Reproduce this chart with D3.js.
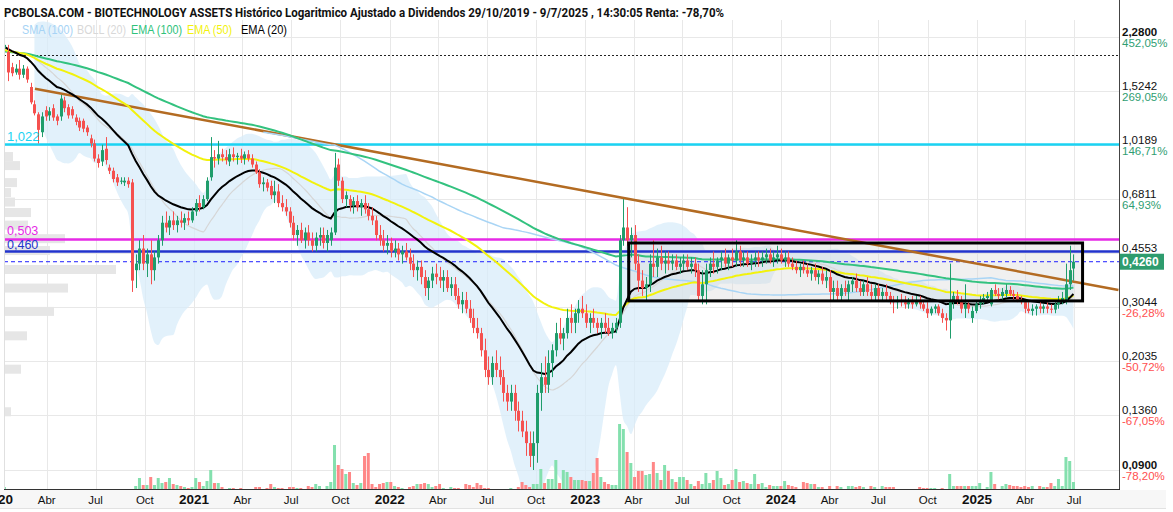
<!DOCTYPE html>
<html><head><meta charset="utf-8">
<script src="https://cdn.jsdelivr.net/npm/d3@7"></script>
<style>
body{margin:0;background:#fff;}
svg{display:block;font-family:"Liberation Sans",Arial,sans-serif;}
</style>
</head><body><svg id="c" width="1173" height="512"></svg>
<script>
// ---------------- DATA ----------------
const firstWeek = "2019-10-28";
// weekly candles [open, high, low, close]
const candles = [
[2.00,2.05,1.95,2.02],[2.02,2.10,1.98,2.08],[2.08,2.15,2.03,2.12],[2.12,2.16,2.05,2.07],[2.07,2.18,2.04,2.15],[2.15,2.22,2.10,2.18],[2.18,2.25,2.12,2.14],[2.14,2.22,2.10,2.20],[2.20,2.28,2.15,2.24],[2.24,2.30,2.16,2.19],
[2.19,2.26,2.12,2.21],[2.10,2.28,2.05,2.15],[2.04,2.15,1.64,1.75],[1.82,1.88,1.70,1.74],[1.75,1.86,1.72,1.80],[1.80,1.92,1.66,1.72],[1.72,1.85,1.68,1.80],[1.80,1.83,1.62,1.66],[1.57,1.62,1.38,1.40],[1.38,1.42,1.27,1.29],
[1.28,1.30,1.03,1.14],[1.12,1.30,1.08,1.26],[1.32,1.36,1.22,1.26],[1.27,1.35,1.22,1.31],[1.34,1.38,1.22,1.25],[1.26,1.28,1.18,1.22],[1.26,1.48,1.22,1.44],[1.42,1.46,1.30,1.34],[1.35,1.38,1.24,1.27],[1.33,1.36,1.24,1.27],
[1.25,1.28,1.18,1.21],[1.22,1.25,1.13,1.16],[1.22,1.24,1.12,1.15],[1.16,1.18,1.09,1.12],[1.07,1.10,1.00,1.03],[1.03,1.06,0.90,0.92],[0.92,0.95,0.86,0.89],[0.90,1.02,0.87,0.98],[0.99,1.08,0.88,0.91],[0.86,0.88,0.82,0.84],
[0.84,0.86,0.77,0.79],[0.80,0.82,0.75,0.77],[0.78,0.80,0.76,0.78],[0.77,0.80,0.75,0.78],[0.78,0.80,0.74,0.76],[0.77,0.79,0.34,0.37],[0.40,0.45,0.35,0.42],[0.42,0.50,0.40,0.47],[0.47,0.52,0.40,0.42],[0.42,0.47,0.38,0.45],
[0.45,0.50,0.36,0.40],[0.40,0.46,0.37,0.44],[0.44,0.52,0.42,0.50],[0.50,0.60,0.48,0.57],[0.57,0.62,0.53,0.55],[0.55,0.60,0.52,0.58],[0.58,0.62,0.54,0.56],[0.56,0.60,0.53,0.58],[0.58,0.62,0.55,0.57],[0.57,0.61,0.54,0.59],
[0.59,0.62,0.56,0.58],[0.58,0.64,0.57,0.62],[0.62,0.68,0.60,0.66],[0.66,0.70,0.62,0.64],[0.64,0.70,0.63,0.68],[0.68,0.80,0.67,0.78],[0.80,1.08,0.78,0.93],[0.93,0.98,0.86,0.92],[0.92,1.05,0.88,0.95],[0.95,0.99,0.90,0.93],
[0.93,0.98,0.88,0.91],[0.90,0.99,0.87,0.95],[0.95,1.00,0.90,0.93],[0.93,0.96,0.88,0.94],[0.94,0.99,0.89,0.92],[0.92,0.97,0.88,0.95],[0.95,0.98,0.90,0.92],[0.92,0.95,0.86,0.88],[0.88,0.90,0.82,0.83],[0.83,0.85,0.74,0.76],
[0.76,0.80,0.72,0.77],[0.77,0.79,0.72,0.74],[0.75,0.78,0.68,0.70],[0.70,0.78,0.66,0.72],[0.72,0.76,0.64,0.66],[0.66,0.70,0.62,0.64],[0.64,0.68,0.60,0.62],[0.62,0.64,0.55,0.57],[0.57,0.60,0.50,0.52],[0.52,0.56,0.48,0.54],
[0.54,0.57,0.49,0.50],[0.50,0.55,0.47,0.53],[0.53,0.56,0.48,0.50],[0.50,0.53,0.46,0.48],[0.48,0.53,0.46,0.51],[0.51,0.55,0.48,0.52],[0.52,0.55,0.47,0.49],[0.49,0.54,0.46,0.52],[0.50,0.55,0.48,0.53],[0.53,0.96,0.52,0.86],
[0.88,0.92,0.75,0.78],[0.78,0.80,0.66,0.68],[0.68,0.72,0.64,0.70],[0.68,0.70,0.62,0.65],[0.65,0.69,0.61,0.67],[0.67,0.70,0.62,0.64],[0.64,0.68,0.60,0.66],[0.66,0.70,0.61,0.63],[0.63,0.66,0.58,0.60],[0.60,0.64,0.56,0.58],
[0.58,0.60,0.50,0.52],[0.52,0.56,0.48,0.50],[0.50,0.54,0.46,0.48],[0.48,0.52,0.45,0.49],[0.49,0.51,0.44,0.46],[0.46,0.50,0.44,0.47],[0.47,0.49,0.43,0.45],[0.45,0.48,0.42,0.46],[0.46,0.49,0.43,0.44],[0.44,0.47,0.40,0.42],
[0.42,0.45,0.38,0.40],[0.40,0.43,0.37,0.41],[0.41,0.43,0.36,0.38],[0.38,0.40,0.33,0.35],[0.35,0.38,0.32,0.37],[0.37,0.41,0.35,0.39],[0.39,0.42,0.36,0.38],[0.38,0.41,0.35,0.37],[0.37,0.40,0.34,0.38],[0.38,0.40,0.34,0.35],
[0.35,0.38,0.33,0.36],[0.36,0.38,0.32,0.33],[0.33,0.35,0.30,0.31],[0.31,0.34,0.29,0.32],[0.32,0.34,0.29,0.30],[0.30,0.32,0.27,0.28],[0.28,0.30,0.25,0.26],[0.26,0.28,0.24,0.25],[0.25,0.26,0.21,0.22],[0.22,0.24,0.18,0.19],
[0.19,0.21,0.17,0.18],[0.18,0.21,0.17,0.20],[0.20,0.22,0.18,0.19],[0.19,0.21,0.17,0.18],[0.18,0.19,0.15,0.16],[0.16,0.17,0.14,0.15],[0.15,0.17,0.14,0.16],[0.16,0.17,0.13,0.14],[0.14,0.15,0.12,0.13],[0.13,0.14,0.115,0.12],
[0.12,0.13,0.10,0.11],[0.11,0.12,0.092,0.10],[0.10,0.12,0.090,0.11],[0.11,0.17,0.095,0.16],[0.16,0.20,0.14,0.18],[0.18,0.21,0.16,0.17],[0.17,0.22,0.16,0.20],[0.20,0.23,0.18,0.22],[0.22,0.27,0.21,0.25],[0.25,0.28,0.23,0.24],
[0.24,0.26,0.22,0.25],[0.25,0.30,0.24,0.28],[0.28,0.31,0.25,0.27],[0.27,0.30,0.25,0.29],[0.29,0.32,0.27,0.30],[0.30,0.33,0.28,0.29],[0.29,0.31,0.26,0.27],[0.27,0.29,0.25,0.28],[0.28,0.30,0.26,0.27],[0.27,0.28,0.25,0.26],
[0.26,0.28,0.24,0.27],[0.27,0.29,0.25,0.26],[0.26,0.28,0.245,0.25],[0.25,0.27,0.24,0.26],[0.26,0.28,0.25,0.27],[0.27,0.52,0.26,0.50],[0.50,0.68,0.48,0.55],[0.55,0.64,0.48,0.50],[0.50,0.55,0.44,0.52],[0.52,0.56,0.40,0.42],
[0.42,0.45,0.34,0.37],[0.37,0.40,0.33,0.35],[0.35,0.38,0.32,0.36],[0.36,0.45,0.34,0.42],[0.42,0.50,0.38,0.41],[0.41,0.47,0.38,0.44],[0.44,0.48,0.40,0.42],[0.42,0.46,0.39,0.43],[0.43,0.46,0.40,0.42],[0.42,0.45,0.40,0.43],
[0.43,0.45,0.40,0.41],[0.41,0.44,0.39,0.42],[0.42,0.45,0.40,0.43],[0.43,0.45,0.40,0.41],[0.41,0.44,0.39,0.42],[0.42,0.44,0.38,0.40],[0.40,0.42,0.32,0.33],[0.33,0.40,0.31,0.36],[0.36,0.42,0.31,0.40],[0.40,0.44,0.38,0.42],
[0.42,0.46,0.39,0.41],[0.41,0.44,0.39,0.43],[0.43,0.46,0.40,0.44],[0.44,0.47,0.41,0.42],[0.42,0.45,0.40,0.44],[0.44,0.47,0.41,0.43],[0.43,0.50,0.41,0.46],[0.46,0.48,0.41,0.43],[0.43,0.46,0.41,0.44],[0.44,0.46,0.41,0.42],
[0.42,0.45,0.40,0.43],[0.43,0.46,0.41,0.44],[0.44,0.46,0.41,0.43],[0.43,0.46,0.41,0.44],[0.44,0.47,0.42,0.45],[0.45,0.47,0.42,0.43],[0.43,0.46,0.41,0.44],[0.44,0.48,0.42,0.45],[0.45,0.47,0.42,0.43],[0.43,0.46,0.41,0.44],
[0.44,0.46,0.41,0.42],[0.42,0.44,0.40,0.41],[0.41,0.43,0.39,0.40],[0.40,0.42,0.38,0.41],[0.41,0.43,0.39,0.40],[0.40,0.42,0.38,0.39],[0.39,0.41,0.37,0.40],[0.40,0.42,0.37,0.38],[0.38,0.40,0.36,0.39],[0.39,0.41,0.36,0.37],
[0.37,0.40,0.35,0.38],[0.38,0.40,0.32,0.34],[0.34,0.37,0.32,0.35],[0.35,0.37,0.32,0.33],[0.33,0.36,0.32,0.35],[0.35,0.37,0.33,0.34],[0.34,0.37,0.32,0.36],[0.36,0.38,0.34,0.37],[0.37,0.39,0.34,0.35],[0.35,0.37,0.33,0.34],
[0.34,0.37,0.33,0.36],[0.36,0.38,0.33,0.34],[0.34,0.36,0.32,0.33],[0.33,0.36,0.32,0.35],[0.35,0.36,0.32,0.33],[0.33,0.35,0.32,0.34],[0.34,0.36,0.32,0.33],[0.33,0.34,0.31,0.32],[0.32,0.33,0.29,0.315],[0.315,0.33,0.30,0.32],
[0.32,0.335,0.305,0.315],[0.315,0.33,0.30,0.31],[0.31,0.325,0.30,0.315],[0.315,0.33,0.30,0.31],[0.31,0.33,0.305,0.32],[0.32,0.33,0.30,0.31],[0.31,0.32,0.295,0.30],[0.30,0.315,0.28,0.29],[0.29,0.305,0.285,0.30],[0.30,0.31,0.29,0.305],
[0.305,0.31,0.285,0.29],[0.29,0.30,0.27,0.28],[0.28,0.29,0.255,0.275],[0.275,0.42,0.24,0.32],[0.32,0.34,0.30,0.33],[0.33,0.345,0.31,0.32],[0.32,0.33,0.29,0.30],[0.30,0.36,0.28,0.31],[0.31,0.32,0.29,0.30],[0.28,0.305,0.27,0.295],
[0.295,0.32,0.29,0.31],[0.31,0.33,0.30,0.32],[0.32,0.335,0.31,0.325],[0.325,0.34,0.315,0.33],[0.31,0.35,0.305,0.345],[0.345,0.36,0.33,0.335],[0.335,0.35,0.32,0.33],[0.33,0.35,0.32,0.34],[0.335,0.36,0.325,0.345],[0.345,0.355,0.33,0.335],
[0.335,0.345,0.32,0.33],[0.33,0.34,0.315,0.32],[0.32,0.33,0.31,0.315],[0.315,0.32,0.29,0.30],[0.30,0.315,0.29,0.295],[0.295,0.31,0.285,0.30],[0.30,0.31,0.285,0.305],[0.305,0.315,0.29,0.30],[0.30,0.31,0.29,0.305],[0.305,0.315,0.29,0.30],
[0.30,0.31,0.29,0.298],[0.298,0.315,0.29,0.31],[0.31,0.33,0.30,0.32],[0.32,0.34,0.31,0.325],[0.32,0.42,0.31,0.36],[0.36,0.48,0.345,0.40],[0.405,0.45,0.37,0.426]
];
const volume = [
0,0,0,0,0,0,0,0,0,0, 0,2,0,0,0,0,0,0,0,0, 0,0,0,0,0,0,0,0,0,0, 0,0,0,0,0,0,0,0,0,0,
0,0,0,0,0,0,3,11,4,4, 12,4,11,6,7,11,5,4,3,2, 1,2,11,7,3,8,19,6,6,2, 0,1,1,0,1,0,0,0,2,2,
0,1,5,2,1,1,0,2,2,1, 1,0,3,2,5,3,0,3,7,44, 24,20,15,17,6,4,6,33,36,5, 2,5,6,7,7,3,2,1,0,2,
3,5,5,6,5,2,3,5,1,0, 2,1,1,0,5,4,2,6,4,1, 1,0,0,0,0,0,1,0,2,7, 4,2,5,5,20,6,10,10,29,6,
19,17,12,9,9,9,8,8,16,31, 12,7,5,4,4,65,60,37,26,12, 18,18,14,15,27,16,9,24,18,10, 7,12,12,9,5,3,8,5,16,6,
9,18,11,4,5,9,20,7,8,6, 5,15,5,6,2,4,3,3,3,8, 4,3,2,0,7,6,5,5,2,2, 0,3,0,3,2,0,3,3,2,3,
2,0,3,2,0,3,2,2,2,0, 0,0,0,0,0,2,1,1,1,1, 0,1,0,15,3,3,3,3,3,3, 3,6,0,2,17,5,0,3,5,4,
3,3,2,3,2,3,0,3,2,2, 6,3,10,3,32,28,7
];
// volume profile (left)
const profilePrice = [0.934,0.873,0.769,0.714,0.665,0.615,0.560,0.506,0.463,0.402,0.350,0.294,0.245,0.191,0.139];
const profileVol   = [8,15,12,6,10,26,23,60,45,111,63,49,22,16,6];
// price axis (the 0,4553 percentage is hidden behind the last-price tag)
const tickValues = [0.09,0.136,0.2035,0.3044,0.4553,0.6811,1.0189,1.5242,2.28];
const tickLabels = ["0,0900","0,1360","0,2035","0,3044","0,4553","0,6811","1,0189","1,5242","2,2800"];
const tickPct    = ["-78,20%","-67,05%","-50,72%","-26,28%","","64,93%","146,71%","269,05%","452,05%"];
// horizontal levels
const levelValues = [1.022, 0.503, 0.460];
const levelLabels = ["1,022","0,503","0,460"];
const startPrice = 2.0;
const lastPrice = 0.426;
const lastLabel = "0,4260";
// trend line and range box
const trendDates = ["2020-03-10","2025-09-22"];
const trendPrices = [1.55, 0.345];
const boxDates = ["2023-03-23","2025-07-17"];
const boxPrices = [0.318, 0.490];
// indicator periods
const emaPeriods = [100, 50, 20];
const smaPeriod = 100, smaStart = 80, bollPeriod = 20;
const legendNames = ["SMA (100)","BOLL (20)","EMA (100)","EMA (50)","EMA (20)"];
const monthNames = {3:"Abr",6:"Jul",9:"Oct"};
const title = "PCBOLSA.COM - BIOTECHNOLOGY ASSETS Histórico Logaritmico Ajustado a Dividendos 29/10/2019 - 9/7/2025 , 14:30:05 Renta: -78,70%";

// ---------------- CHART ----------------
const svg = d3.select("#c");
const L = 4, R = 1119, T = 20, B = 489;
const parse = d3.timeParse("%Y-%m-%d");
const x = d3.scaleTime().domain([new Date(2020,0,1), new Date(2025,0,1)]).range([-2, 977]);
const y = d3.scaleLog().domain([0.09, 2.28]).range([470, 37]);
const yv = d3.scaleLinear().domain([0, 70]).range([B, B-70]);
const w0 = parse(firstWeek);
const dates = candles.map((d,i) => d3.timeDay.offset(w0, 7*i));
const closes = candles.map(d => d[3]);

svg.append("defs").append("clipPath").attr("id","clip")
  .append("rect").attr("x",L).attr("y",T).attr("width",R-L).attr("height",B-T);
svg.append("rect").attr("width",1173).attr("height",512).attr("fill","#fff");

// bottom band
svg.append("rect").attr("x",0).attr("y",B+1).attr("width",1166).attr("height",18).attr("fill","#f7f7f7");
svg.append("line").attr("x1",0).attr("x2",1166).attr("y1",B+19.5).attr("y2",B+19.5).attr("stroke","#e2e2e2");

const g = svg.append("g").attr("clip-path","url(#clip)");

// grid
const qTicks = d3.timeMonth.every(3).range(new Date(2019,11,1), new Date(2025,8,1));
g.selectAll(".vg").data(qTicks).join("line")
  .attr("x1",d=>Math.round(x(d))+0.5).attr("x2",d=>Math.round(x(d))+0.5).attr("y1",T).attr("y2",B)
  .attr("stroke","#e8e8e8");
g.selectAll(".hg").data(tickValues).join("line")
  .attr("x1",L).attr("x2",R).attr("y1",d=>Math.round(y(d))+0.5).attr("y2",d=>Math.round(y(d))+0.5)
  .attr("stroke","#e8e8e8");
svg.append("line").attr("x1",L+0.5).attr("x2",L+0.5).attr("y1",T).attr("y2",B).attr("stroke","#e0e0e0");

// volume profile
g.selectAll(".pf").data(profilePrice).join("rect")
  .attr("x",L+1).attr("y",d=>y(d)-4.5).attr("height",9)
  .attr("width",(d,i)=>profileVol[i]).attr("fill","#e6e6e6");

// indicators
function ema(n){ const k=2/(n+1); let e=closes[0]; return closes.map(c=> (e = c*k + e*(1-k))); }
const boll = closes.map((c,i)=>{
  if(i<bollPeriod-1) return null;
  const s = closes.slice(i-bollPeriod+1,i+1), m=d3.mean(s), sd=Math.sqrt(d3.mean(s,v=>(v-m)*(v-m)));
  return {i, m, u:m+2*sd, l:Math.max(m-2*sd,0.05)};
}).filter(d=>d);
const sma = closes.map((c,i)=> i<smaStart ? null : {i, v:d3.mean(closes.slice(Math.max(0,i-smaPeriod+1),i+1))}).filter(d=>d);

g.append("path").datum(boll)
  .attr("d", d3.area().x(d=>x(dates[d.i])).y0(d=>y(d.l)).y1(d=>y(d.u)).curve(d3.curveMonotoneX))
  .attr("fill","#d8ecfa").attr("fill-opacity",0.75);
g.append("path").datum(boll)
  .attr("d", d3.line().x(d=>x(dates[d.i])).y(d=>y(d.m)).curve(d3.curveMonotoneX))
  .attr("fill","none").attr("stroke","#d6d6d6").attr("stroke-width",1.2);

// volume bars
g.selectAll(".vol").data(volume).join("rect")
  .attr("x",(d,i)=>x(dates[i])-1.5).attr("width",3)
  .attr("y",d=>yv(d)).attr("height",d=>B-yv(d))
  .attr("fill",(d,i)=> candles[i][3]>=candles[i][0] ? "#84e0ae" : "#ff8787");

// range box fill
const bx0 = x(parse(boxDates[0])), bx1 = x(parse(boxDates[1]));
const by0 = y(boxPrices[1]), by1 = y(boxPrices[0]);
g.append("rect").attr("x",bx0).attr("y",by0).attr("width",bx1-bx0).attr("height",by1-by0)
  .attr("fill","#d9d9d9").attr("fill-opacity",0.4);

// horizontal levels
const levelColors = ["#1ad3f3","#e62ae6","#2233cc"];
g.selectAll(".lv").data(levelValues).join("line")
  .attr("x1",L).attr("x2",R).attr("y1",d=>y(d)).attr("y2",d=>y(d))
  .attr("stroke",(d,i)=>levelColors[i]).attr("stroke-width",2.5);
g.append("line").attr("x1",L).attr("x2",R).attr("y1",y(lastPrice)).attr("y2",y(lastPrice))
  .attr("stroke","#1f1fff").attr("stroke-width",1).attr("stroke-dasharray","4,3");
g.append("line").attr("x1",L).attr("x2",R).attr("y1",Math.round(y(startPrice))+0.5).attr("y2",Math.round(y(startPrice))+0.5)
  .attr("stroke","#222").attr("stroke-width",1).attr("stroke-dasharray","2,2");

// trend line
g.append("line")
  .attr("x1",x(parse(trendDates[0]))).attr("y1",y(trendPrices[0]))
  .attr("x2",x(parse(trendDates[1]))).attr("y2",y(trendPrices[1]))
  .attr("stroke","#b36b22").attr("stroke-width",2.5);

// SMA / EMA lines
g.append("path").datum(sma)
  .attr("d", d3.line().x(d=>x(dates[d.i])).y(d=>y(d.v)))
  .attr("fill","none").attr("stroke","#a9d5f5").attr("stroke-width",1.5);
const emaColors = ["#33c27f","#f2f20c","#000"];
emaPeriods.forEach((n,k)=>{
  const e = ema(n);
  g.append("path").datum(e)
    .attr("d", d3.line().x((d,i)=>x(dates[i])).y(d=>y(d)))
    .attr("fill","none").attr("stroke",emaColors[k]).attr("stroke-width",2);
});

// candles
const cg = g.append("g");
candles.forEach((d,i)=>{
  const [o,h,l,c] = d, up = c>=o, col = up ? "#1f9d6b" : "#f5514f";
  const cx = Math.round(x(dates[i]));
  cg.append("line").attr("x1",cx+0.5).attr("x2",cx+0.5).attr("y1",y(h)).attr("y2",y(l)).attr("stroke",col);
  const top = y(Math.max(o,c)), bot = y(Math.min(o,c));
  cg.append("rect").attr("x",cx-1).attr("width",3).attr("y",top).attr("height",Math.max(1,bot-top)).attr("fill",col);
});

// range box border
g.append("rect").attr("x",bx0).attr("y",by0).attr("width",bx1-bx0).attr("height",by1-by0)
  .attr("fill","none").attr("stroke","#000").attr("stroke-width",3);

// level labels
const levelDy = [-3, -4, -2];
svg.selectAll(".ll").data(levelValues).join("text")
  .attr("x",7).attr("y",(d,i)=>y(d)+levelDy[i]).text((d,i)=>levelLabels[i])
  .attr("fill",(d,i)=>levelColors[i]).attr("font-size",(d,i)=> i===0 ? 13 : 12.5);

// frame
svg.append("line").attr("x1",R+0.5).attr("x2",R+0.5).attr("y1",0).attr("y2",B+1).attr("stroke","#444");
svg.append("line").attr("x1",L).attr("x2",R+1).attr("y1",B+0.5).attr("y2",B+0.5).attr("stroke","#333");

// right axis labels
const ra = svg.append("g");
tickValues.forEach((v,i)=>{
  const yy = Math.round(y(v));
  const bold = (i===0 || i===tickValues.length-1);
  ra.append("text").attr("x",R+3).attr("y",yy-1).text(tickLabels[i])
    .attr("font-size",11.5).attr("fill","#111").attr("font-weight",bold?"bold":"normal");
  if (tickPct[i]) ra.append("text").attr("x",R+3).attr("y",yy+10).text(tickPct[i])
    .attr("font-size",11.5).attr("fill", tickPct[i][0]==="-" ? "#ff4f4f" : "#2f9e72");
});
// last price tag
const ly = y(lastPrice);
svg.append("rect").attr("x",R+1).attr("y",ly-8).attr("width",44).attr("height",16).attr("fill","#2e9c6e");
svg.append("text").attr("x",R+3).attr("y",ly+4.5).text(lastLabel).attr("fill","#fff")
  .attr("font-size",12).attr("font-weight","bold");

// bottom axis labels
const xt = svg.append("g");
qTicks.forEach(d=>{
  const m = d.getMonth();
  const isYear = m===0;
  xt.append("text").attr("x",x(d)).attr("y",504).attr("text-anchor","middle")
    .text(isYear ? d.getFullYear() : monthNames[m])
    .attr("font-size", isYear?13.5:11.5).attr("font-weight", isYear?"bold":"normal").attr("fill","#111");
});

// title
svg.append("text").attr("x",4).attr("y",17).text(title)
  .attr("font-family","Roboto, 'Liberation Sans', Arial, sans-serif")
  .attr("font-size",13.5).attr("font-weight","bold").attr("fill","#111")
  .attr("textLength",720).attr("lengthAdjust","spacingAndGlyphs");

// legend
const legendX = [22,77,131,187,241];
const legendW = [51,49,51,45,46];
const legendColors = ["#a6d3f5","#d8d8d8","#2ec27a","#f2f20c","#000"];
legendNames.forEach((n,i)=>{
  svg.append("text").attr("x",legendX[i]).attr("y",34).text(n)
    .attr("font-size",12.5).attr("fill",legendColors[i])
    .attr("textLength",legendW[i]).attr("lengthAdjust","spacingAndGlyphs");
});
</script>
</body></html>
